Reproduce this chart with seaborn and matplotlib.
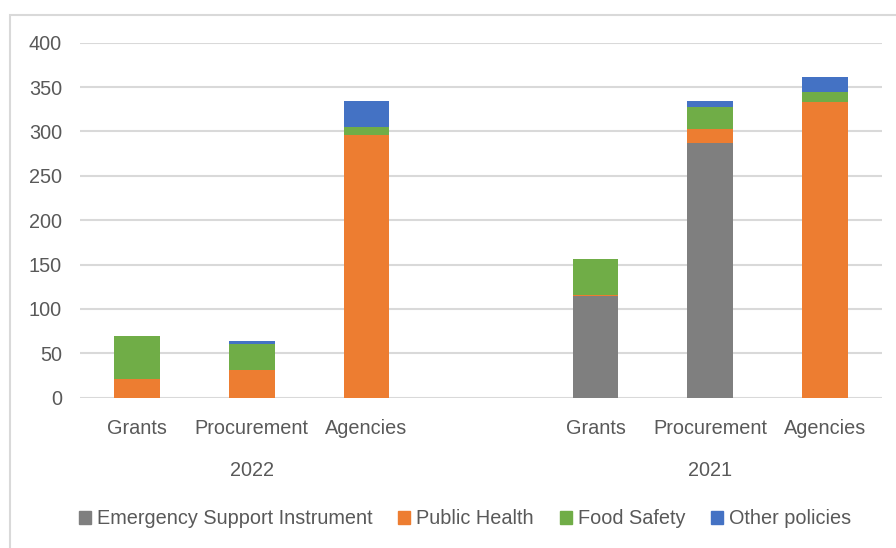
import numpy as np
import pandas as pd
import matplotlib
matplotlib.use('Agg')
import matplotlib.pyplot as plt
import matplotlib.patches as mpatches
import seaborn as sns

# données
years = ['2022', '2021']
categories = ['Grants', 'Procurement', 'Agencies']
series = ['Emergency Support Instrument', 'Public Health', 'Food Safety', 'Other policies']
colors = ['#7f7f7f', '#ed7d31', '#70ad47', '#4472c4']

esi = [0, 0, 0, 115, 287, 0]
public_health = [21, 31, 296, 1, 16, 333]
food_safety = [48, 30, 9, 40, 25, 12]
other = [0, 2.5, 29, 0, 6, 16]

rows = []
for g, year in enumerate(years):
    for c, cat in enumerate(categories):
        rows.append({'year': year, 'category': cat, 'pos': g * (len(categories) + 1) + c})
df = pd.DataFrame(rows)
df['Emergency Support Instrument'] = esi
df['Public Health'] = public_health
df['Food Safety'] = food_safety
df['Other policies'] = other

sns.set_style('white')
plt.rcParams['font.family'] = ['Liberation Sans', 'DejaVu Sans']
text_color = '#595959'
grid_color = '#d9d9d9'
fs = 14.3

fig = plt.figure(figsize=(8.96, 5.48), dpi=100)
ax = fig.add_axes([80 / 896, 1 - 397.7 / 548, 802 / 896, 355 / 548])

# barres empilées : on trace les cumuls du plus haut au plus bas
cum = df[series].cumsum(axis=1)
for i in range(len(series) - 1, -1, -1):
    sns.barplot(x=df['pos'], y=cum[series[i]], native_scale=True, color=colors[i],
                width=0.4, ax=ax, linewidth=0, saturation=1, zorder=3)

ax.set_xlim(-0.5, 6.5)
ax.set_ylim(0, 400)
ax.set_yticks(np.arange(0, 401, 50))
ax.set_xticks(df['pos'])
ax.set_xticklabels(df['category'])
ax.set_xlabel('')
ax.set_ylabel('')
ax.tick_params(axis='y', length=0, pad=13, labelsize=fs, labelcolor=text_color)
ax.tick_params(axis='x', length=0, pad=15, labelsize=fs, labelcolor=text_color)
ax.grid(axis='y', color=grid_color, linewidth=1.5, zorder=0)
ax.set_axisbelow(True)
for s in ax.spines.values():
    s.set_visible(False)

# étiquettes des années
for g, year in enumerate(years):
    mid = df[df['year'] == year]['pos'].mean()
    ax.text(mid, -0.205, year, transform=ax.get_xaxis_transform(), ha='center', va='center',
            fontsize=fs, color=text_color)

handles = [mpatches.Patch(color=colors[i], label=series[i]) for i in range(len(series))]
fig.legend(handles=handles, loc='center', bbox_to_anchor=(465 / 896, 1 - 519 / 548), ncol=4,
           frameon=False, fontsize=fs, labelcolor=text_color, handlelength=0.6, handleheight=0.6,
           handletextpad=0.3, columnspacing=1.3)

# cadre du graphique
fig.patches.append(mpatches.Rectangle((10 / 896, -0.05), 1.1, 1.05 - 15 / 548, transform=fig.transFigure,
                                      fill=False, edgecolor=grid_color, linewidth=1.5))

fig.savefig('out.png', dpi=100)
